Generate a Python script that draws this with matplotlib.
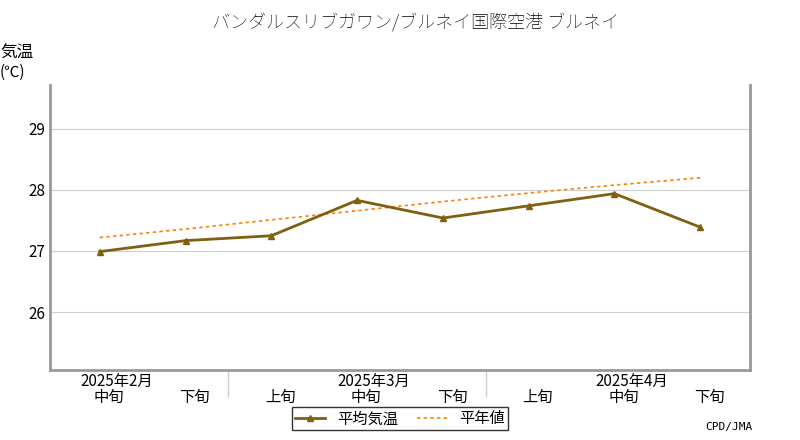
import matplotlib
matplotlib.use("Agg")
import matplotlib.pyplot as plt
from matplotlib.lines import Line2D
from matplotlib.transforms import ScaledTranslation

plt.rcParams["font.family"] = ["Noto Sans CJK JP", "DejaVu Sans"]

periods = ["中旬", "下旬", "上旬", "中旬", "下旬", "上旬", "中旬", "下旬"]
months = ["2025年2月", "2025年3月", "2025年4月"]
month_pos = [0, 3, 6]
mean_temp = [26.99, 27.17, 27.25, 27.83, 27.54, 27.74, 27.94, 27.39]
normal = [27.22, 27.36, 27.51, 27.66, 27.81, 27.95, 28.08, 28.20]

fig = plt.figure(figsize=(8, 4.4), dpi=100)
ax = fig.add_axes([50/800, 70/440, 700/800, 285/440])
x = list(range(len(mean_temp)))
ax.plot(x, normal, color="#ff7f00", linestyle=(0, (2, 2)), linewidth=1.2, label="平年値")
ax.plot(x, mean_temp, color="#806010", linewidth=2, marker="^", markersize=5, label="平均気温")
ax.set_xlim(-0.58, 7.58)
ax.set_ylim(25.05, 29.72)
ax.set_yticks([26, 27, 28, 29])
ax.yaxis.grid(True, color="#d0d0d0", linewidth=0.8)
ax.set_axisbelow(True)
ax.set_xticks(x)
ax.set_xticklabels(periods, fontsize=11)
ax.tick_params(axis="x", length=0, pad=14)
ax.tick_params(axis="y", length=0, labelsize=11)
off = ScaledTranslation(9/100, 0, fig.dpi_scale_trans)
for lab in ax.get_xticklabels():
    lab.set_transform(lab.get_transform() + off)
for s in ["left", "bottom", "right"]:
    ax.spines[s].set_color("#999999")
    ax.spines[s].set_linewidth(2)
ax.spines["top"].set_visible(False)
for m, p in zip(months, month_pos):
    ax.text(p, -0.012, m, transform=ax.get_xaxis_transform() + ScaledTranslation(17/100, 0, fig.dpi_scale_trans),
            ha="center", va="top", fontsize=11)
for b in [1.5, 4.5]:
    ax.plot([b, b], [0, -0.09], transform=ax.get_xaxis_transform(), color="#cccccc", linewidth=1, clip_on=False)

fig.text(0.52, 0.95, "バンダルスリブガワン/ブルネイ国際空港 ブルネイ", ha="center", va="center", fontsize=13, fontweight="light")
fig.text(0.0, 0.88, "気温", fontsize=12, va="center")
fig.text(0.0, 0.835, "(℃)", fontsize=11, va="center")
fig.text(0.94, 0.03, "CPD/JMA", fontsize=8, ha="right", va="center", family="DejaVu Sans Mono")

h = [Line2D([], [], color="#806010", linewidth=2, marker="^", markersize=5),
     Line2D([], [], color="#ff7f00", linestyle=(0, (2, 2)), linewidth=1.2)]
fig.legend(h, ["平均気温", "平年値"], loc="center", bbox_to_anchor=(0.5, 0.048), ncol=2,
           fontsize=11, frameon=True, fancybox=False, edgecolor="black",
           borderpad=0.2, handlelength=2, columnspacing=1.2)
fig.savefig("out.png")
